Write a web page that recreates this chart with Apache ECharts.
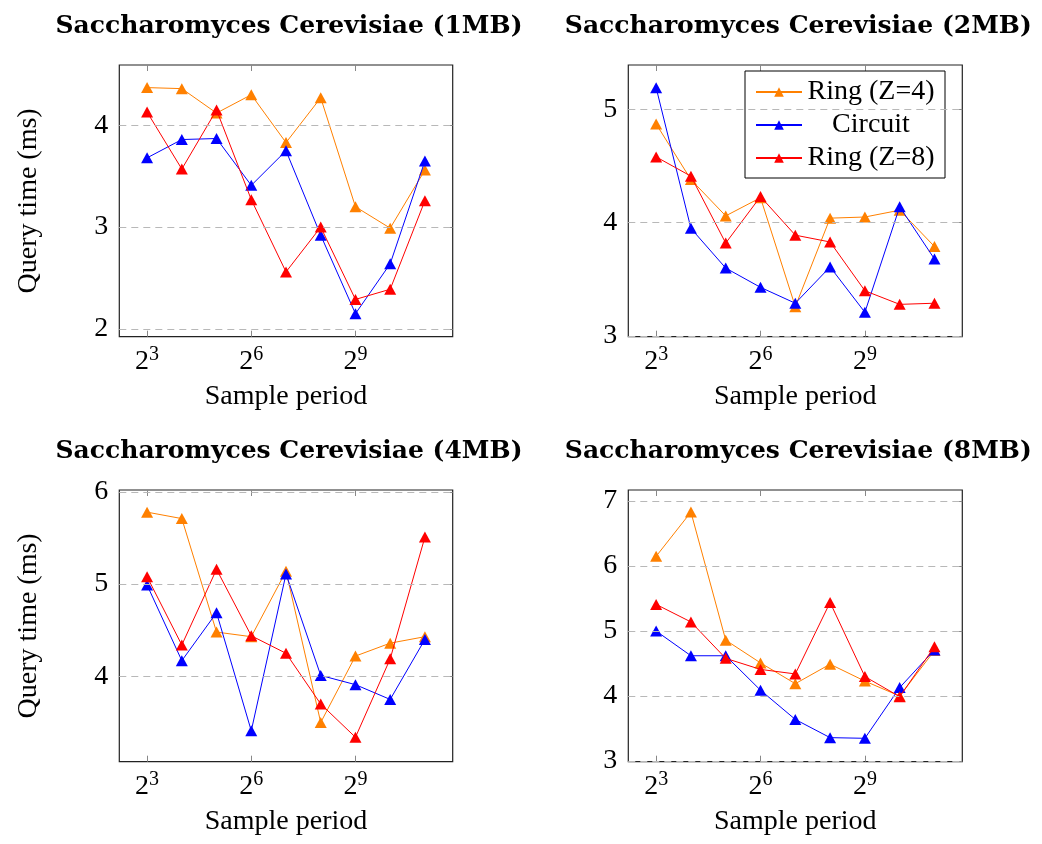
<!DOCTYPE html>
<html>
<head>
<meta charset="utf-8">
<script src="https://cdn.jsdelivr.net/npm/echarts@6/dist/echarts.min.js"></script>
<style>
  html, body { margin: 0; padding: 0; background: #fff; }
  #chart { width: 1042px; height: 844px; }
</style>
</head>
<body>
<div id="chart"></div>
<script>
// Sample periods (x) shown on a log2 scale
const samplePeriods = [8, 16, 32, 64, 128, 256, 512, 1024, 2048];
const xTickExponents = [3, 6, 9];
const seriesNames = ['Ring (Z=4)', 'Circuit', 'Ring (Z=8)'];
const panelTitles = [
  'Saccharomyces Cerevisiae (1MB)',
  'Saccharomyces Cerevisiae (2MB)',
  'Saccharomyces Cerevisiae (4MB)',
  'Saccharomyces Cerevisiae (8MB)'
];

// Query time (ms) per panel
const ring4_1MB   = [4.37, 4.36, 4.12, 4.30, 3.83, 4.27, 3.20, 2.99, 3.56];
const circuit_1MB = [3.68, 3.86, 3.87, 3.41, 3.75, 2.92, 2.15, 2.64, 3.65];
const ring8_1MB   = [4.13, 3.57, 4.15, 3.27, 2.56, 3.00, 2.29, 2.39, 3.26];

const ring4_2MB   = [4.87, 4.38, 4.06, 4.22, 3.26, 4.04, 4.05, 4.11, 3.79];
const circuit_2MB = [5.19, 3.95, 3.60, 3.43, 3.29, 3.61, 3.21, 4.14, 3.68];
const ring8_2MB   = [4.58, 4.41, 3.82, 4.23, 3.89, 3.83, 3.40, 3.28, 3.29];

const ring4_4MB   = [5.78, 5.71, 4.48, 4.43, 5.14, 3.50, 4.22, 4.36, 4.43];
const circuit_4MB = [4.99, 4.17, 4.69, 3.41, 5.11, 4.01, 3.91, 3.75, 4.40];
const ring8_4MB   = [5.08, 4.34, 5.16, 4.44, 4.25, 3.70, 3.34, 4.19, 5.51];

const ring4_8MB   = [6.15, 6.83, 4.86, 4.51, 4.19, 4.49, 4.23, 4.00, 4.70];
const circuit_8MB = [5.00, 4.62, 4.62, 4.09, 3.64, 3.36, 3.35, 4.13, 4.71];
const ring8_8MB   = [5.41, 5.14, 4.58, 4.41, 4.34, 5.44, 4.30, 3.99, 4.76];

// Y tick values per panel
const yTicks_1MB = [2, 3, 4];
const yTicks_2MB = [3, 4, 5];
const yTicks_4MB = [4, 5, 6];
const yTicks_8MB = [3, 4, 5, 6, 7];

const panelValues = [
  [ring4_1MB, circuit_1MB, ring8_1MB],
  [ring4_2MB, circuit_2MB, ring8_2MB],
  [ring4_4MB, circuit_4MB, ring8_4MB],
  [ring4_8MB, circuit_8MB, ring8_8MB]
];
const panelYTicks = [yTicks_1MB, yTicks_2MB, yTicks_4MB, yTicks_8MB];

// Layout of the four plot boxes and their y ranges
const panels = [
  { left: 119.3, top: 65,  width: 333.4, height: 271.7, yMin: 1.924, yMax: 4.592, yName: true },
  { left: 628.3, top: 65,  width: 334,   height: 271.7, yMin: 2.995, yMax: 5.39,  yName: false },
  { left: 119.3, top: 490, width: 333.4, height: 271.7, yMin: 3.075, yMax: 6.02,  yName: true },
  { left: 628.3, top: 490, width: 334,   height: 271.7, yMin: 2.99,  yMax: 7.17,  yName: false }
];
const xMin = 2.2, xMax = 11.8;

const colors = ['#ff8000', '#0000ff', '#ff0000'];
const FONT = 'Liberation Serif';
const TITLE_FONT = 'DejaVu Serif';
const TEXT_SIZE = 28;

const grids = [], xAxes = [], yAxes = [], series = [], titles = [];

const tickStyle = { inside: true, length: 6, lineStyle: { color: '#888', width: 1 } };

panels.forEach((p, i) => {
  grids.push({
    left: p.left, top: p.top, width: p.width, height: p.height,
    show: true, borderColor: '#222', borderWidth: 1.2, backgroundColor: 'transparent',
    outerBoundsMode: 'none', containLabel: false
  });
  titles.push({
    text: panelTitles[i],
    left: p.left + p.width / 2 - 2,
    top: p.top - 56,
    textAlign: 'center',
    textStyle: { fontFamily: TITLE_FONT, fontWeight: 'bold', fontSize: 25, color: '#000' }
  });
  // bottom x axis
  xAxes.push({
    type: 'value', gridIndex: i, min: xMin, max: xMax, position: 'bottom',
    axisLine: { show: false },
    splitLine: { show: false },
    axisTick: Object.assign({ customValues: xTickExponents }, tickStyle),
    axisLabel: {
      customValues: xTickExponents,
      margin: 8,
      formatter: v => '{b|2}{s|' + v + '}',
      rich: {
        b: { fontFamily: FONT, fontSize: TEXT_SIZE, color: '#000', lineHeight: 31, verticalAlign: 'bottom' },
        s: { fontFamily: FONT, fontSize: 20, color: '#000', lineHeight: 17, verticalAlign: 'top' }
      }
    },
    name: 'Sample period',
    nameLocation: 'middle',
    nameGap: 46,
    nameTextStyle: { fontFamily: FONT, fontSize: TEXT_SIZE, color: '#000' }
  });
  // mirrored top ticks
  xAxes.push({
    type: 'value', gridIndex: i, min: xMin, max: xMax, position: 'top',
    axisLine: { show: false }, splitLine: { show: false },
    axisTick: Object.assign({ customValues: xTickExponents }, tickStyle),
    axisLabel: { show: false }
  });
  // left y axis
  const yAxis = {
    type: 'value', gridIndex: i, min: p.yMin, max: p.yMax, position: 'left',
    axisLine: { show: false }, splitLine: { show: false },
    axisTick: Object.assign({ customValues: panelYTicks[i] }, tickStyle),
    axisLabel: {
      customValues: panelYTicks[i], margin: 11,
      fontFamily: FONT, fontSize: TEXT_SIZE, color: '#000'
    }
  };
  if (p.yName) {
    Object.assign(yAxis, {
      name: 'Query time (ms)', nameLocation: 'middle', nameGap: 77,
      nameTextStyle: { fontFamily: FONT, fontSize: TEXT_SIZE, color: '#000' }
    });
  }
  yAxes.push(yAxis);
  // mirrored right ticks
  yAxes.push({
    type: 'value', gridIndex: i, min: p.yMin, max: p.yMax, position: 'right',
    axisLine: { show: false }, splitLine: { show: false },
    axisTick: Object.assign({ customValues: panelYTicks[i] }, tickStyle),
    axisLabel: { show: false }
  });

  // dashed horizontal grid lines at the y ticks
  series.push({
    name: 'grid' + i, type: 'line', xAxisIndex: 2 * i, yAxisIndex: 2 * i,
    data: [], z: 1, silent: true,
    markLine: {
      silent: true, symbol: ['none', 'none'], animation: false,
      label: { show: false },
      lineStyle: { color: '#b8b8b8', type: [7, 5], width: 1 },
      emphasis: { disabled: true },
      data: panelYTicks[i].map(v => ({ yAxis: v }))
    }
  });

  panelValues[i].forEach((vals, s) => {
    series.push({
      name: seriesNames[s], type: 'line',
      xAxisIndex: 2 * i, yAxisIndex: 2 * i,
      data: samplePeriods.map((per, k) => [Math.log2(per), vals[k]]),
      symbol: 'triangle', symbolSize: [12, 11],
      itemStyle: { color: colors[s] },
      lineStyle: { color: colors[s], width: 1 },
      z: 2 + s
    });
  });
});

const chart = echarts.init(document.getElementById('chart'), null, { renderer: 'canvas' });
chart.setOption({
  animation: false,
  backgroundColor: '#fff',
  title: titles,
  grid: grids,
  xAxis: xAxes,
  yAxis: yAxes,
  legend: {
    data: seriesNames,
    orient: 'vertical',
    left: 745, top: 71,
    padding: [7, 10, 6, 10],
    itemGap: 5,
    itemWidth: 46, itemHeight: 12,
    borderColor: '#000', borderWidth: 1, backgroundColor: '#fff',
    textStyle: {
      fontFamily: FONT, fontSize: TEXT_SIZE, color: '#000',
      rich: { c: { fontFamily: FONT, fontSize: TEXT_SIZE, color: '#000', width: 128, align: 'center', lineHeight: 28 } }
    },
    formatter: name => '{c|' + name + '}'
  },
  series: series
});
</script>
</body>
</html>
